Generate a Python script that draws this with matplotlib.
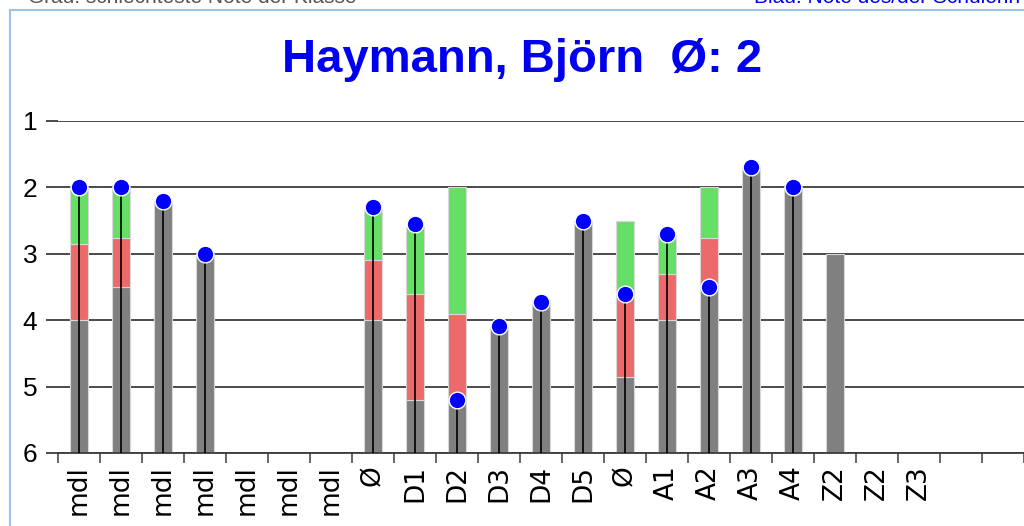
import numpy as np
import matplotlib
matplotlib.use("Agg")
import matplotlib.pyplot as plt
from matplotlib.lines import Line2D

nan = np.nan

#########################################################################
# data (grades, 1 = best, 6 = worst)

labels = ['mdl', 'mdl', 'mdl', 'mdl', 'mdl', 'mdl', 'mdl',
          'Ø', 'D1', 'D2', 'D3', 'D4', 'D5', 'Ø',
          'A1', 'A2', 'A3', 'A4', 'Z2', 'Z2', 'Z3']
n_slots = 23

# gray: worst grade of the class
worst = [4.0, 3.5, 2.2, 3.0, nan, nan, nan,
         4.0, 5.2, 5.2, 4.1, 3.7, 2.5, 4.86,
         4.0, 3.5, 1.7, 2.0, 3.0, nan, nan, nan, nan]
# red segment top
red_top = [2.85, 2.76, nan, nan, nan, nan, nan,
           3.1, 3.6, 3.9, nan, nan, nan, 3.64,
           3.31, 2.76, nan, nan, nan, nan, nan, nan, nan]
# green segment top
green_top = [2.0, 2.0, nan, nan, nan, nan, nan,
             2.33, 2.6, 2.0, nan, nan, nan, 2.51,
             2.72, 2.0, nan, nan, nan, nan, nan, nan, nan]
# blue: grade of the student
student = [2.0, 2.0, 2.2, 3.0, nan, nan, nan,
           2.3, 2.55, 5.2, 4.09, 3.72, 2.5, 3.61,
           2.7, 3.5, 1.7, 2.0, nan, nan, nan, nan, nan]

title = "Haymann, Björn  Ø: 2"

#########################################################################

x = np.arange(n_slots)
worst = np.array(worst)
red_top = np.array(red_top)
green_top = np.array(green_top)
student = np.array(student)

fig = plt.figure(figsize=(10.24, 5.26), dpi=100)
ax = fig.add_axes([58 / 1024, 1 - 453 / 526, 966 / 1024, 332 / 526])

bar_w = 0.43
edge = '#d8d8d8'

ax.bar(x, worst - 6, bottom=6, width=bar_w, color='#808080',
       edgecolor=edge, linewidth=0.8, zorder=2)
ax.bar(x, red_top - worst, bottom=worst, width=bar_w, color='#EC6A6A',
       edgecolor=edge, linewidth=0.8, zorder=2)
ax.bar(x, green_top - red_top, bottom=red_top, width=bar_w, color='#66DF66',
       edgecolor=edge, linewidth=0.8, zorder=2)

# black stems from bottom to the student's grade
for xi, s in zip(x, student):
    if not np.isnan(s):
        ax.plot([xi, xi], [6, s], color='black', lw=1.2, zorder=3)

ax.plot(x, student, 'o', color='#0000FF', markersize=12,
        markeredgecolor='white', markeredgewidth=1.0, zorder=4, clip_on=False)

# axes
ax.set_xlim(-0.5, n_slots - 0.5)
ax.set_ylim(6, 1)
ax.set_yticks([1, 2, 3, 4, 5, 6])
ax.set_yticklabels(['1', '2', '3', '4', '5', '6'], fontsize=19,
                   family='Liberation Sans')
ax.yaxis.grid(True, color='#3c3c3c', lw=1.3, zorder=0)
ax.set_axisbelow(True)
ax.tick_params(axis='y', length=9, width=1.3, color='#3c3c3c', pad=6)

ax.set_xticks(np.arange(len(labels)))
ax.set_xticklabels(labels, rotation=90, fontsize=19, family='DejaVu Sans')
ax.set_xticks(np.arange(n_slots + 1) - 0.5, minor=True)
ax.tick_params(axis='x', which='major', length=0, pad=9)
ax.tick_params(axis='x', which='minor', length=7, width=1.1, color='#3c3c3c')

for side in ['top', 'right', 'left']:
    ax.spines[side].set_visible(False)
ax.spines['bottom'].set_color('#3c3c3c')
ax.spines['bottom'].set_linewidth(1.3)

# title
fig.text(522 / 1024, 1 - 72 / 526, title, ha='center', va='baseline',
         fontsize=34, fontweight='bold', color='#0000EE',
         family='Liberation Sans')

# frame of the chart area
frame_c = '#9DC3E6'
fig.add_artist(Line2D([10 / 1024, 1.0], [1 - 10 / 526, 1 - 10 / 526],
                      color=frame_c, lw=1.5, transform=fig.transFigure))
fig.add_artist(Line2D([10 / 1024, 10 / 1024], [0, 1 - 10 / 526],
                      color=frame_c, lw=1.5, transform=fig.transFigure))

# header texts, mostly above the picture (cut off as in the original)
fig.text(28 / 1024, 1 - 3 / 526, "Grau: schlechteste Note der Klasse",
         ha='left', va='baseline', fontsize=15, color='#555555',
         family='Liberation Sans')
fig.text(1020 / 1024, 1 - 3 / 526, "Blau: Note des/der Schülerin",
         ha='right', va='baseline', fontsize=15, color='#0000EE',
         family='Liberation Sans')

fig.savefig('out.png', dpi=100)
